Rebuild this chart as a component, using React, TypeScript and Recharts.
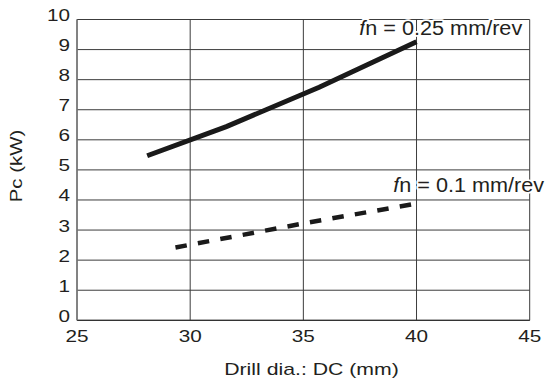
import React from "react";
import { LineChart, Line, XAxis, YAxis, CartesianGrid, ReferenceDot } from "recharts";

const xTicks = [25, 30, 35, 40, 45];
const yTicks = [0, 1, 2, 3, 4, 5, 6, 7, 8, 9, 10];

const highFeedDia = [28.1, 31.6, 35.7, 40];
const highFeedPc = [5.47, 6.44, 7.75, 9.26];
const lowFeedDia = [29.35, 35, 39.9];
const lowFeedPc = [2.42, 3.22, 3.87];

const highLabel = { rest: "n = 0.25 mm/rev", dia: 37.47, pc: 9.485 };
const lowLabel = { rest: "n = 0.1 mm/rev", dia: 38.97, pc: 4.255 };

const xTitle = "Drill dia.: DC (mm)";
const yTitle = "Pc (kW)";

const highData = highFeedDia.map((d, i) => ({ d, p: highFeedPc[i] }));
const lowData = lowFeedDia.map((d, i) => ({ d, p: lowFeedPc[i] }));

const TXT = "#231f20";
const FONT = "'Liberation Sans', Arial, Helvetica, sans-serif";

const XTick = (props: any) => {
  const { x, y, payload } = props;
  return (
    <text
      transform={`translate(${x},${y + 21.4}) scale(1.22,1)`}
      textAnchor="middle"
      fontSize={17}
      fontFamily={FONT}
      fill={TXT}
    >
      {payload.value}
    </text>
  );
};

const YTick = (props: any) => {
  const { x, y, payload } = props;
  return (
    <text
      transform={`translate(${x},${y + 1.5}) scale(1.22,1)`}
      textAnchor="end"
      fontSize={17}
      fontFamily={FONT}
      fill={TXT}
    >
      {payload.value}
    </text>
  );
};

const Annot = (text: string) => (props: any) => {
  const { cx, cy } = props;
  return (
    <text
      transform={`translate(${cx},${cy}) scale(1.11,1)`}
      textAnchor="start"
      fontSize={19.5}
      fontFamily={FONT}
      fill={TXT}
      stroke="#ffffff"
      strokeWidth={3.5}
      paintOrder="stroke"
      strokeLinejoin="round"
    >
      <tspan fontStyle="italic">f</tspan>
      {text}
    </text>
  );
};

export default function App() {
  return (
    <div style={{ position: "absolute", left: 0, top: 0, background: "#fff" }}>
      <LineChart
        width={547}
        height={380}
        margin={{ top: 19.5, right: 17.3, bottom: 19.7, left: 27 }}
      >
        <CartesianGrid stroke="#3c3c3c" strokeWidth={1} />
        <XAxis
          type="number"
          dataKey="d"
          domain={[25, 45]}
          ticks={xTicks}
          allowDataOverflow
          height={40}
          tickLine={false}
          tickSize={0}
          tickMargin={0}
          axisLine={{ stroke: "#333", strokeWidth: 1.2 }}
          tick={<XTick />}
          label={{
            content: () => (
              <text
                transform="translate(311.5,375) scale(1.25,1)"
                textAnchor="middle"
                fontSize={17}
                fontFamily={FONT}
                fill={TXT}
              >
                {xTitle}
              </text>
            ),
          }}
        />
        <YAxis
          type="number"
          dataKey="p"
          domain={[0, 10]}
          ticks={yTicks}
          allowDataOverflow
          width={50}
          tickLine={false}
          tickSize={0}
          tickMargin={7}
          axisLine={{ stroke: "#7a7a7a", strokeWidth: 1.5 }}
          tick={<YTick />}
          label={{
            content: () => (
              <text
                transform="translate(22,166) rotate(-90) scale(1.2,1)"
                textAnchor="middle"
                fontSize={17}
                fontFamily={FONT}
                fill={TXT}
              >
                {yTitle}
              </text>
            ),
          }}
        />
        <Line
          data={highData}
          dataKey="p"
          type="linear"
          stroke="#1a1a1a"
          strokeWidth={5}
          dot={false}
          activeDot={false}
          isAnimationActive={false}
        />
        <Line
          data={lowData}
          dataKey="p"
          type="linear"
          stroke="#1a1a1a"
          strokeWidth={4.5}
          strokeDasharray="11.5 11.3"
          dot={false}
          activeDot={false}
          isAnimationActive={false}
        />
        <ReferenceDot
          x={highLabel.dia}
          y={highLabel.pc}
          r={0}
          shape={Annot(highLabel.rest)}
          ifOverflow="visible"
        />
        <ReferenceDot
          x={lowLabel.dia}
          y={lowLabel.pc}
          r={0}
          shape={Annot(lowLabel.rest)}
          ifOverflow="visible"
        />
      </LineChart>
    </div>
  );
}
